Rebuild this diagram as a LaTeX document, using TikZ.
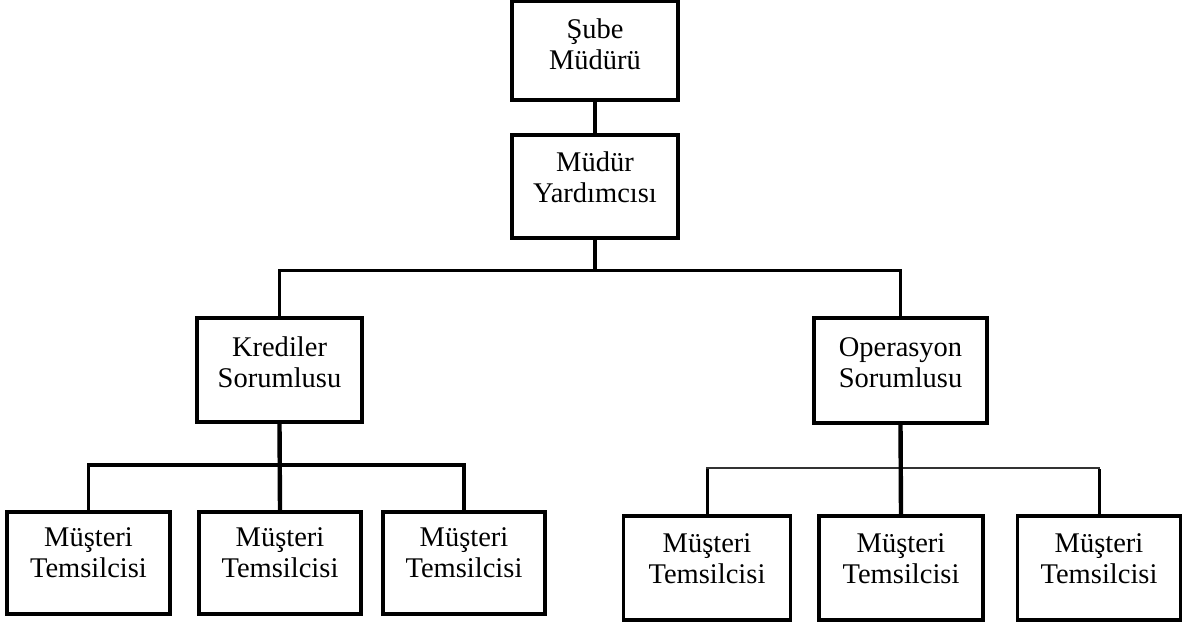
\documentclass[tikz,border=0pt]{standalone}
\usepackage{fontspec}
\setmainfont{Liberation Serif}
\begin{document}
\begin{tikzpicture}[x=1pt,y=-1pt,
  box/.style={draw=black, line width=3.2pt, inner sep=0pt, fill=white},
  lbl/.style={align=center, inner sep=0pt, font=\fontsize{28.5}{31}\selectfont},
  conn/.style={draw=black, line width=3.4pt},
  thinconn/.style={draw=black!80, line width=2.2pt}]
\useasboundingbox (0,0) rectangle (1185,625);

% management boxes
\node[box, minimum width=166pt, minimum height=99pt]  (A) at (595,50.5)  {};
\node[box, minimum width=166pt, minimum height=103pt] (B) at (595,186.5) {};
\node[box, minimum width=165pt, minimum height=104pt] (C) at (279.5,370) {};
\node[box, minimum width=173pt, minimum height=105pt] (D) at (900.5,370.5) {};

% customer representative boxes
\node[box, minimum width=163pt, minimum height=102pt] (E1) at (88.5,563) {};
\node[box, minimum width=162pt, minimum height=102pt] (E2) at (280,563) {};
\node[box, minimum width=162pt, minimum height=102pt] (E3) at (464,563) {};
\node[box, minimum width=167pt, minimum height=104pt] (F1) at (707,568) {};
\node[box, minimum width=164pt, minimum height=104pt] (F2) at (901,568) {};
\node[box, minimum width=163pt, minimum height=104pt] (F3) at (1099,568) {};

% labels (positive yshift moves a label up)
\node[lbl] (tA) at ([yshift=6]A.center) {Şube\\Müdürü};
\node[lbl] (tB) at ([yshift=9]B.center) {Müdür\\Yardımcısı};
\node[lbl] (tC) at ([yshift=8]C.center) {Krediler\\Sorumlusu};
\node[lbl] (tD) at ([yshift=8]D.center) {Operasyon\\Sorumlusu};
\foreach \n in {E1,E2,E3} {
  \node[lbl] (t\n) at ([yshift=10]\n.center) {Müşteri\\Temsilcisi};
}
\foreach \n in {F1,F2,F3} {
  \node[lbl] (t\n) at ([yshift=9]\n.center) {Müşteri\\Temsilcisi};
}

% connectors
\coordinate (hub) at (595,270);
\coordinate (lhub) at (280,465);
\coordinate (rhub) at (901,468);
\draw[conn, line width=4pt] (A.south) -- (B.north);
\draw[conn, line width=4pt] (B.south) -- (hub);
\draw[conn, line width=3pt] (C.north) |- (hub) -| (D.north);
\draw[conn, line width=3.4pt] (E1.north) |- (lhub) -| (E3.north);
\draw[conn, line width=4.4pt] (C.south) -- (E2.north);
\draw[thinconn] (F1.north) |- (rhub) -| (F3.north);
\draw[conn, line width=3pt] (F1.north) -- ([yshift=-1]F1.north |- rhub);
\draw[conn, line width=3pt] (F3.north) -- ([yshift=-1]F3.north |- rhub);
\draw[conn, line width=4.4pt] (D.south) -- (F2.north);
\end{tikzpicture}
\end{document}
